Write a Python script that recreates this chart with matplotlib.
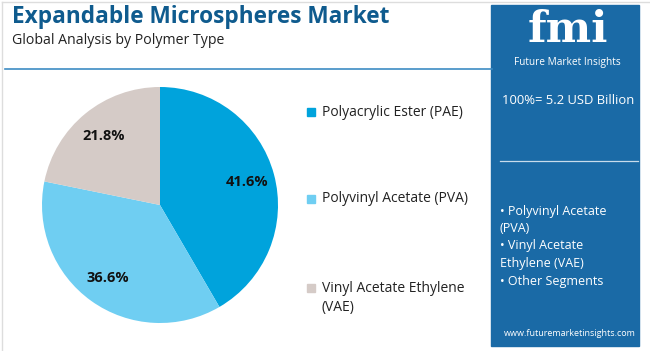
import matplotlib.pyplot as plt
from matplotlib.patches import Rectangle

segments = ['Polyacrylic Ester (PAE)', 'Polyvinyl Acetate (PVA)', 'Vinyl Acetate Ethylene\n(VAE)']
shares = [41.6, 36.6, 21.8]
colors = ['#00a3dc', '#6fcef2', '#d5cbc7']
side_items = ['• Polyvinyl Acetate', '(PVA)', '• Vinyl Acetate', 'Ethylene (VAE)', '• Other Segments']

W, H = 650, 351
fig = plt.figure(figsize=(6.5, 3.51), dpi=100)
plt.rcParams['font.family'] = ['Open Sans', 'DejaVu Sans']


def fx(px):
    return px / W


def fy(py):
    return 1 - py / H


# faint frame at top and left
fig.add_artist(plt.Line2D([fx(2), fx(650)], [fy(1.5), fy(1.5)], color='#dddddd', lw=1))
fig.add_artist(plt.Line2D([fx(2), fx(2)], [fy(1.5), fy(351)], color='#dddddd', lw=1))

# title area
fig.text(fx(12), fy(17), 'Expandable Microspheres Market', fontsize=16.3, fontweight='bold',
         color='#0f5b8e', va='center', ha='left')
fig.text(fx(12), fy(40), 'Global Analysis by Polymer Type', fontsize=10.2, color='#222222',
         va='center', ha='left')
fig.add_artist(plt.Line2D([fx(5), fx(492)], [fy(69), fy(69)], color='#3d8cc4', lw=1.2))

# pie
r = 118
cx, cy = 160, 205
ax = fig.add_axes([fx(cx - r), fy(cy + r), 2 * r / W, 2 * r / H])
wedges, _, autotexts = ax.pie(shares, colors=colors, startangle=90, counterclock=False,
                              autopct='%.1f%%', pctdistance=0.76, radius=1,
                              textprops=dict(fontsize=10.5, fontweight='bold', color='#111111'))
ax.set_xlim(-1, 1)
ax.set_ylim(-1, 1)
ax.axis('off')

# legend
leg_y = [112, 199, 288]
for lab, c, y in zip(segments, colors, leg_y):
    fig.add_artist(Rectangle((fx(307), fy(y + 4)), 8 / W, 8 / H, color=c))
    lines = lab.split('\n')
    for k, line in enumerate(lines):
        fig.text(fx(322), fy(y + 20 * k), line, fontsize=10, color='#222222', va='center', ha='left')

# side panel
fig.add_artist(Rectangle((fx(491), fy(346)), 148 / W, 341 / H, color='#1a6aa6'))
fig.text(fx(568), fy(30), 'fmi', fontsize=31, fontweight='bold', family='DejaVu Serif',
         color='white', ha='center', va='center')
fig.text(fx(567), fy(63), 'Future Market Insights', fontsize=7.3, color='white', ha='center', va='center')
fig.text(fx(568), fy(101), '100%= 5.2 USD Billion', fontsize=9.4, color='white', ha='center', va='center')
fig.add_artist(plt.Line2D([fx(500), fx(638)], [fy(161), fy(161)], color='#c8dcec', lw=0.9))
for i, t in enumerate(side_items):
    fig.text(fx(500), fy(211 + i * 17.5), t, fontsize=9, color='white', ha='left', va='center')
fig.text(fx(570), fy(334), 'www.futuremarketinsights.com', fontsize=6.5, color='white',
         ha='center', va='center')

fig.savefig('out.png', dpi=100, facecolor='white')
